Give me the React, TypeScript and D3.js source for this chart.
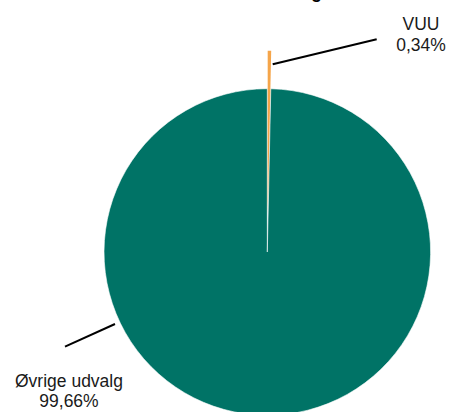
import React from "react";
import * as d3 from "d3";

const categories = ["VUU", "Øvrige udvalg"];
const values = [0.34, 99.66];
const valueLabels = ["0,34%", "99,66%"];
const colors = ["#F5A54A", "#007366"];
const title = "Andel af samlede udvalg";

const W = 456;
const H = 412;
const cx = 267.3;
const cy = 252;
const R = 163.3;
const explode = [38, 0];

// label layout (annotation positions)
const labelPos = [
  { x: 421, y1: 29.5, y2: 51, line: [[272.7, 64.3], [376.7, 39.3]] },
  { x: 69, y1: 386.5, y2: 407, line: [[115, 324], [65, 346.7]] },
];

export default function App() {
  const pie = d3
    .pie<number>()
    .sort(null)
    .startAngle(0)
    .endAngle(2 * Math.PI)
    .value((d) => d);
  const arcs = pie(values);
  const arc = d3.arc<d3.PieArcDatum<number>>().innerRadius(0).outerRadius(R);

  return (
    <svg
      width={W}
      height={H}
      style={{ position: "absolute", left: 0, top: 0, background: "#fff" }}
      fontFamily="'Liberation Sans', Arial, sans-serif"
    >
      <text
        x={322}
        y={-2}
        textAnchor="end"
        fontSize={18}
        fontWeight="bold"
        fill="#000"
      >
        {title}
      </text>
      <g transform={`translate(${cx},${cy})`}>
        {arcs
          .map((a, i) => ({ a, i }))
          .reverse()
          .map(({ a, i }) => {
            const mid = (a.startAngle + a.endAngle) / 2;
            const dx = Math.sin(mid) * explode[i];
            const dy = -Math.cos(mid) * explode[i];
            return (
              <path
                key={categories[i]}
                d={arc(a) || ""}
                transform={`translate(${dx},${dy})`}
                fill={colors[i]}
                stroke={i === 1 ? "#fff" : "none"}
                strokeWidth={i === 1 ? 0.6 : 0}
              />
            );
          })}
      </g>
      {labelPos.map((p, i) => (
        <g key={categories[i]}>
          <line
            x1={p.line[0][0]}
            y1={p.line[0][1]}
            x2={p.line[1][0]}
            y2={p.line[1][1]}
            stroke="#000"
            strokeWidth={2}
          />
          <text x={p.x} y={p.y1} textAnchor="middle" fontSize={17.5} fill="#1a1a1a">
            {categories[i]}
          </text>
          <text x={p.x} y={p.y2} textAnchor="middle" fontSize={17.5} fill="#1a1a1a">
            {valueLabels[i]}
          </text>
        </g>
      ))}
    </svg>
  );
}
